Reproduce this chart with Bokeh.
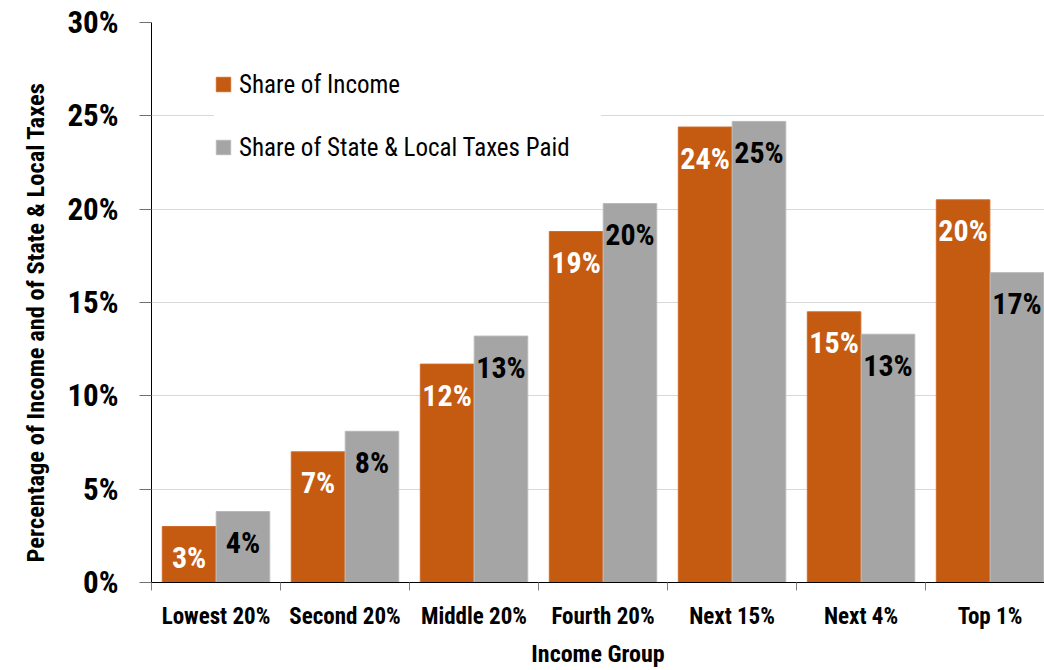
from bokeh.plotting import figure
from bokeh.models import ColumnDataSource, Range1d, FixedTicker, Legend, LegendItem, Title
from bokeh.core.properties import value
from bokeh.embed import file_html
from bokeh.resources import INLINE

categories = ["Lowest 20%", "Second 20%", "Middle 20%", "Fourth 20%", "Next 15%", "Next 4%", "Top 1%"]
share_income = [3.0, 7.0, 11.7, 18.8, 24.4, 14.5, 20.5]
share_taxes = [3.8, 8.1, 13.2, 20.3, 24.7, 13.3, 16.6]
income_labels = ["3%", "7%", "12%", "19%", "24%", "15%", "20%"]
taxes_labels = ["4%", "8%", "13%", "20%", "25%", "13%", "17%"]
y_ticks = [0, 5, 10, 15, 20, 25, 30]
series_names = ["Share of Income", "Share of State & Local Taxes Paid"]
y_title = "Percentage of Income and of State & Local Taxes"
x_title = "Income Group"

FONT = "Roboto Condensed"
ORANGE = "#C55A11"
GRAY = "#A5A5A5"

idx = list(range(len(categories)))
off = 0.209
bw = 0.415

src_inc = ColumnDataSource(dict(x=[i - off for i in idx], top=share_income, lab=income_labels))
src_tax = ColumnDataSource(dict(x=[i + off for i in idx], top=share_taxes, lab=taxes_labels))

p = figure(width=1044, height=670, output_backend="svg", toolbar_location=None,
           x_range=Range1d(-0.5, 6.422), y_range=Range1d(0, 30),
           min_border_left=151, min_border_right=0, min_border_top=22, min_border_bottom=87)
p.outline_line_color = None
p.background_fill_color = "white"
p.border_fill_color = "white"

r1 = p.vbar(x="x", top="top", width=bw, source=src_inc, fill_color=ORANGE, line_color="#CF6A2A", line_width=1)
r2 = p.vbar(x="x", top="top", width=bw, source=src_tax, fill_color=GRAY, line_color="#B8B8B8", line_width=1)

p.text(x="x", y="top", text="lab", source=src_inc, text_color="white",
       text_font=value(FONT), text_font_size="30px", text_font_style="bold",
       text_align="center", text_baseline="middle", y_offset=31)
p.text(x="x", y="top", text="lab", source=src_tax, text_color="black",
       text_font=value(FONT), text_font_size="30px", text_font_style="bold",
       text_align="center", text_baseline="middle", y_offset=31)

# x axis
p.xgrid.grid_line_color = None
p.xaxis.ticker = FixedTicker(ticks=idx, minor_ticks=[i - 0.5 for i in idx] + [6.5])
p.xaxis.major_label_overrides = {i: c for i, c in zip(idx, categories)}
p.xaxis.major_tick_line_color = None
p.xaxis.major_tick_out = 0
p.xaxis.major_tick_in = 0
p.xaxis.minor_tick_line_color = "#808080"
p.xaxis.minor_tick_out = 8
p.xaxis.minor_tick_in = 0
p.xaxis.axis_line_color = "black"
p.xaxis.major_label_text_font = FONT
p.xaxis.major_label_text_font_size = "23px"
p.xaxis.major_label_text_font_style = "bold"
p.xaxis.major_label_text_color = "black"
p.xaxis.major_label_standoff = 12
p.xaxis.axis_label = x_title
p.xaxis.axis_label_text_font = FONT
p.xaxis.axis_label_text_font_size = "24px"
p.xaxis.axis_label_text_font_style = "bold"
p.xaxis.axis_label_text_color = "black"
p.xaxis.axis_label_standoff = 7

# y axis
p.yaxis.ticker = FixedTicker(ticks=y_ticks)
p.yaxis.major_label_overrides = {t: f"{t}%" for t in y_ticks}
p.yaxis.minor_tick_line_color = None
p.yaxis.major_tick_line_color = "#707070"
p.yaxis.major_tick_out = 12
p.yaxis.major_tick_in = 0
p.yaxis.axis_line_color = "black"
p.yaxis.major_label_text_font = FONT
p.yaxis.major_label_text_font_size = "31px"
p.yaxis.major_label_text_font_style = "bold"
p.yaxis.major_label_text_color = "black"
p.yaxis.major_label_standoff = 21
p.ygrid.grid_line_color = "#D9D9D9"
p.ygrid.ticker = FixedTicker(ticks=y_ticks)

ytitle = Title(text=y_title, align="left", offset=20, standoff=30,
               text_font=FONT, text_font_size="24.5px", text_font_style="bold", text_color="black")
p.add_layout(ytitle, "left")

legend = Legend(items=[LegendItem(label=series_names[0], renderers=[r1]),
                       LegendItem(label=series_names[1], renderers=[r2])],
                location=(63, 420))
legend.label_text_font = FONT
legend.label_text_font_size = "25px"
legend.label_text_color = "black"
legend.glyph_width = 18
legend.glyph_height = 18
legend.label_height = 30
legend.label_width = 362
legend.label_standoff = 7
legend.spacing = 33
legend.padding = 34
legend.border_line_color = None
legend.background_fill_color = "white"
legend.background_fill_alpha = 1.0
p.add_layout(legend, "center")

open("out.html", "w").write(file_html(p, INLINE))
